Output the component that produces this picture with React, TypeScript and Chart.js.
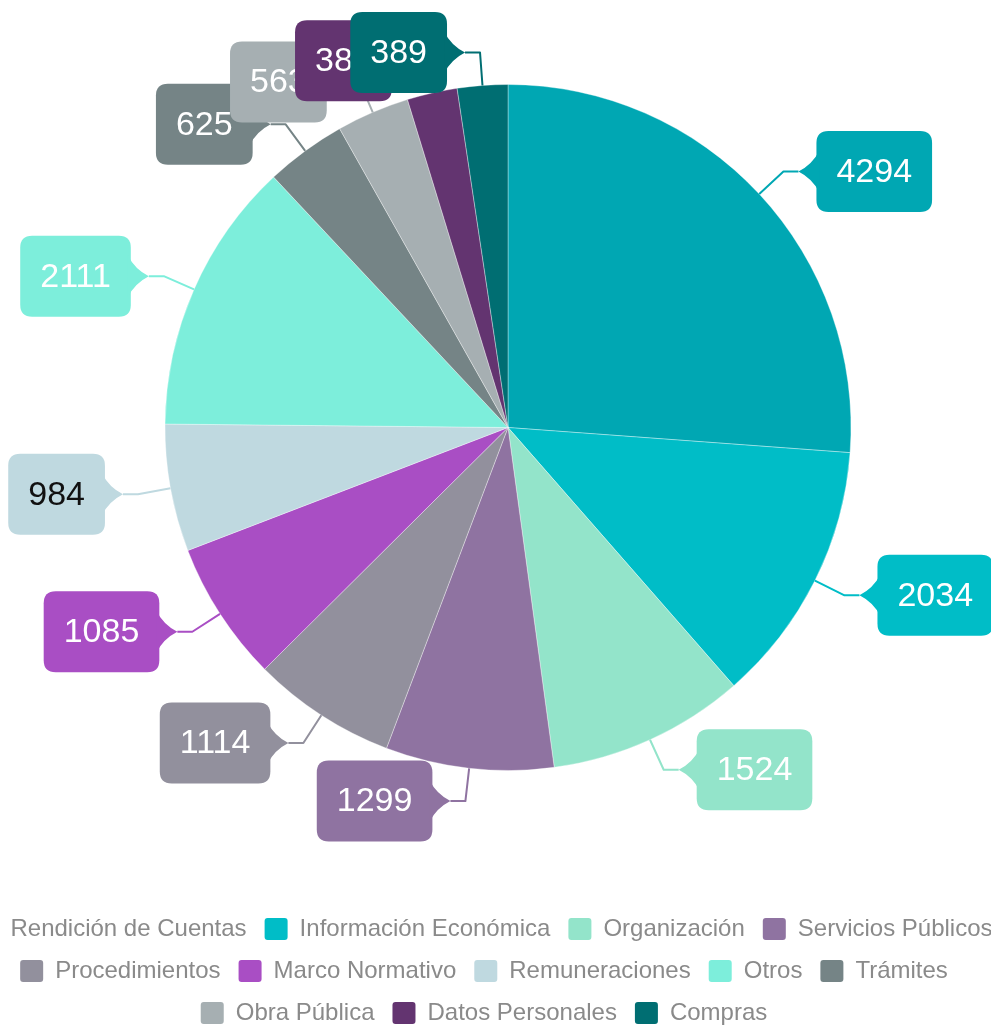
import React, { useEffect, useRef } from 'react';
import { Chart, registerables } from 'chart.js';

Chart.register(...registerables);

const categories = [
  'Rendición de Cuentas',
  'Información Económica',
  'Organización',
  'Servicios Públicos',
  'Procedimientos',
  'Marco Normativo',
  'Remuneraciones',
  'Otros',
  'Trámites',
  'Obra Pública',
  'Datos Personales',
  'Compras',
];

const values = [4294, 2034, 1524, 1299, 1114, 1085, 984, 2111, 625, 563, 388, 389];

const sliceColors = [
  '#00A7B3',
  '#00BDC7',
  '#93E4CA',
  '#8F73A1',
  '#92909D',
  '#A94EC4',
  '#BFD9E0',
  '#7DEEDB',
  '#758486',
  '#A6AFB2',
  '#633470',
  '#006E72',
];

const labelTextColors = [
  '#ffffff', '#ffffff', '#ffffff', '#ffffff', '#ffffff', '#ffffff',
  '#111111', '#ffffff', '#ffffff', '#ffffff', '#ffffff', '#ffffff',
];

const FONT = '"Liberation Sans", Arial, Helvetica, sans-serif';

function roundRectPath(ctx: CanvasRenderingContext2D, x: number, y: number, w: number, h: number, r: number) {
  ctx.moveTo(x + r, y);
  ctx.lineTo(x + w - r, y);
  ctx.quadraticCurveTo(x + w, y, x + w, y + r);
  ctx.lineTo(x + w, y + h - r);
  ctx.quadraticCurveTo(x + w, y + h, x + w - r, y + h);
  ctx.lineTo(x + r, y + h);
  ctx.quadraticCurveTo(x, y + h, x, y + h - r);
  ctx.lineTo(x, y + r);
  ctx.quadraticCurveTo(x, y, x + r, y);
  ctx.closePath();
}

const outLabels = {
  id: 'outLabels',
  afterDraw(chart: any) {
    const ctx: CanvasRenderingContext2D = chart.ctx;
    const meta = chart.getDatasetMeta(0);
    const ds = chart.data.datasets[0];
    ctx.save();
    ctx.font = `34px ${FONT}`;
    meta.data.forEach((arc: any, i: number) => {
      const { x, y, startAngle, endAngle, outerRadius } = arc.getProps(
        ['x', 'y', 'startAngle', 'endAngle', 'outerRadius'],
        true
      );
      const mid = (startAngle + endAngle) / 2;
      const c = Math.cos(mid);
      const s = Math.sin(mid);
      const px = x + outerRadius * c;
      const py = y + outerRadius * s;
      const qx = px + 33 * c;
      const qy = py + 33 * s;
      const dir = c >= 0 ? 1 : -1;
      const tx = qx + 15 * dir;
      const ty = qy;
      const text = String(ds.data[i]);
      const tw = ctx.measureText(text).width;
      const bw = tw + 40;
      const bh = 81;
      const edge = tx + 18 * dir;
      const bx = dir > 0 ? edge : edge - bw;
      const by = ty - bh / 2;
      const color = sliceColors[i];

      ctx.strokeStyle = color;
      ctx.lineWidth = 2;
      ctx.lineJoin = 'round';
      ctx.beginPath();
      ctx.moveTo(px, py);
      ctx.lineTo(qx, qy);
      ctx.lineTo(tx, ty);
      ctx.stroke();

      ctx.fillStyle = color;
      ctx.beginPath();
      roundRectPath(ctx, bx, by, bw, bh, 12);
      ctx.fill();

      ctx.beginPath();
      ctx.moveTo(edge + dir * 3, ty - 21);
      ctx.quadraticCurveTo(edge - dir * 4, ty - 7, tx, ty);
      ctx.quadraticCurveTo(edge - dir * 4, ty + 7, edge + dir * 3, ty + 21);
      ctx.closePath();
      ctx.fill();

      ctx.fillStyle = labelTextColors[i];
      ctx.textAlign = 'center';
      ctx.textBaseline = 'middle';
      ctx.fillText(text, bx + bw / 2, ty + 1);
    });
    ctx.restore();
  },
};

export default function App() {
  const canvasRef = useRef<HTMLCanvasElement | null>(null);

  useEffect(() => {
    if (!canvasRef.current) return;
    const chart = new Chart(canvasRef.current, {
      type: 'pie',
      data: {
        labels: categories,
        datasets: [
          {
            data: values,
            backgroundColor: sliceColors,
            borderColor: 'rgba(255,255,255,0.35)',
            borderWidth: 1,
            radius: 343,
            hoverOffset: 0,
          },
        ],
      },
      options: {
        responsive: false,
        animation: false,
        events: [],
        layout: { padding: 0 },
        plugins: {
          tooltip: { enabled: false },
          title: {
            display: true,
            position: 'left',
            text: ' ',
            font: { size: 10, lineHeight: 1 },
            padding: { top: 38, bottom: 0 },
          },
          legend: {
            position: 'bottom',
            labels: {
              boxWidth: 23,
              boxHeight: 22,
              padding: 18,
              color: '#8a8a8a',
              font: { size: 24, family: FONT },
              useBorderRadius: true,
              borderRadius: 3,
              generateLabels: () =>
                categories.map((t, i) => ({
                  text: t,
                  fillStyle: sliceColors[i],
                  strokeStyle: sliceColors[i],
                  lineWidth: 0,
                  hidden: false,
                  index: i,
                  borderRadius: 3,
                  fontColor: '#8a8a8a',
                })),
            },
          },
        },
      },
      plugins: [outLabels],
    } as any);
    return () => chart.destroy();
  }, []);

  return (
    <div
      style={{
        position: 'fixed',
        left: 0,
        top: 0,
        width: '100vw',
        height: '100vh',
        overflow: 'hidden',
        background: '#ffffff',
      }}
    >
      <div style={{ position: 'absolute', left: -66, top: -44, width: 1100, height: 1079 }}>
        <canvas ref={canvasRef} width={1100} height={1079} style={{ display: 'block' }} />
      </div>
    </div>
  );
}
